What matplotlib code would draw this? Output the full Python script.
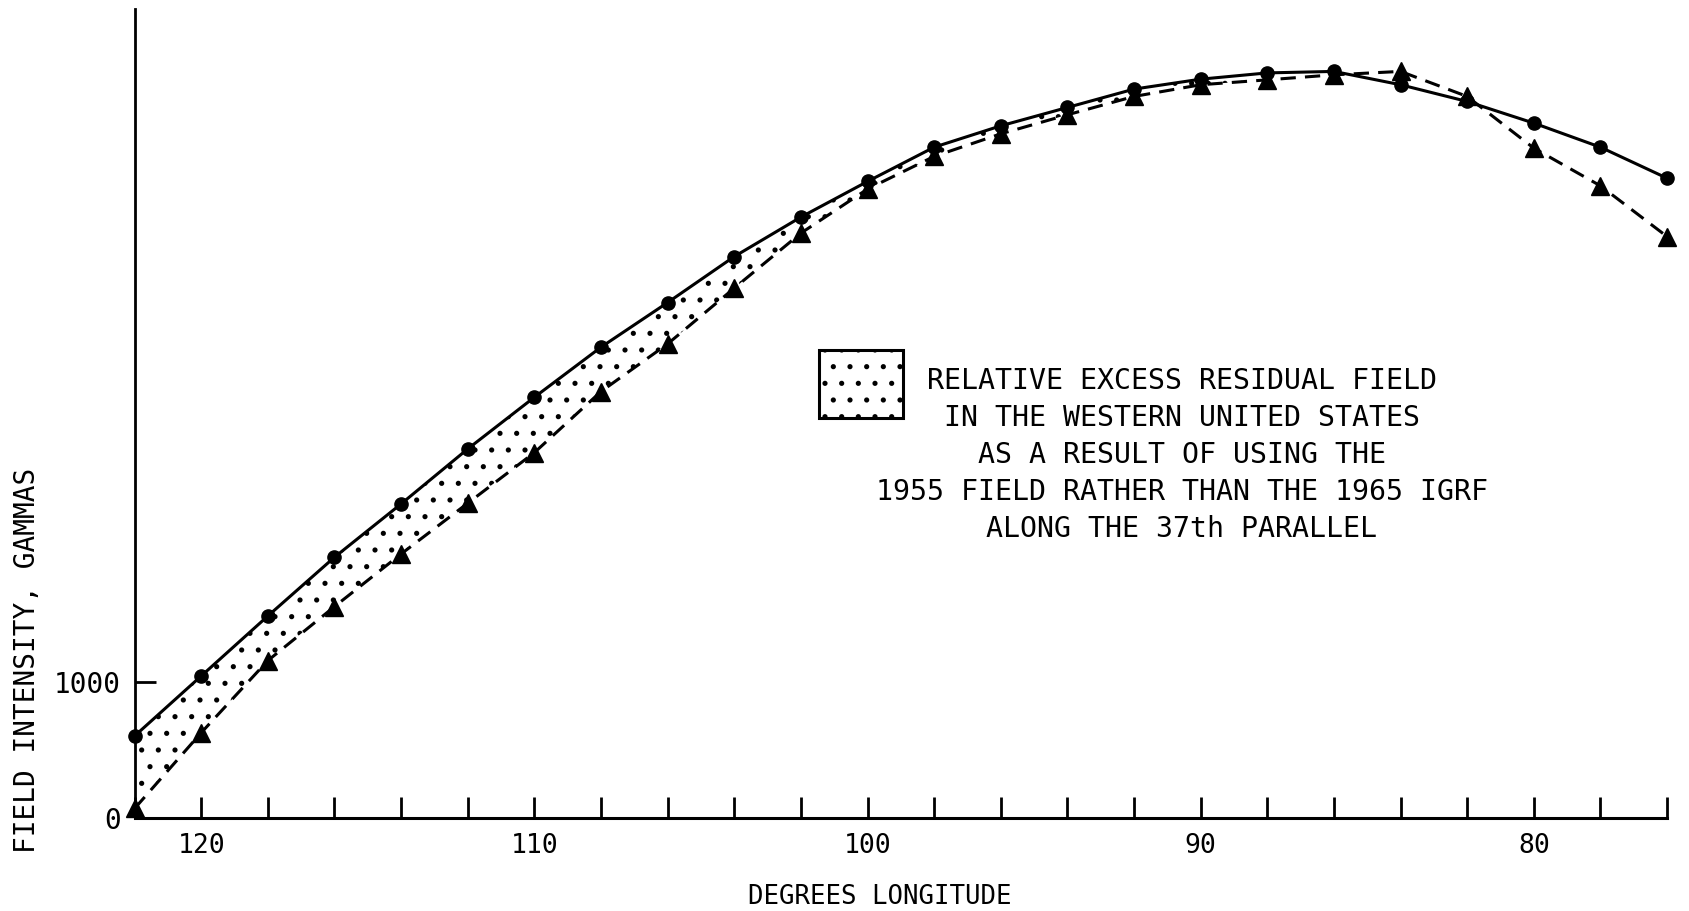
import matplotlib.pyplot as plt
from matplotlib.patches import Rectangle
import numpy as np

# longitude (degrees west), read every 2 degrees
longitude = [122, 120, 118, 116, 114, 112, 110, 108, 106, 104, 102, 100,
             98, 96, 94, 92, 90, 88, 86, 84, 82, 80, 78, 76]
# solid curve with dots (gammas)
solid_dots = [603, 1044, 1485, 1917, 2309, 2713, 3093, 3461, 3789, 4127, 4417, 4679,
              4931, 5088, 5223, 5358, 5431, 5477, 5488, 5390, 5267, 5108, 4931, 4703]
# dashed curve with triangles (gammas)
dashed_triangles = [70, 627, 1157, 1554, 1941, 2314, 2686, 3135, 3485, 3895, 4299, 4623,
                    4863, 5029, 5169, 5304, 5390, 5426, 5463, 5488, 5304, 4924, 4647, 4274]

major_ticks = [120, 110, 100, 90, 80]
minor_ticks = list(range(122, 75, -2))
y_ticks = [0, 1000]

legend_text = ("RELATIVE EXCESS RESIDUAL FIELD\n"
               "IN THE WESTERN UNITED STATES\n"
               "AS A RESULT OF USING THE\n"
               "1955 FIELD RATHER THAN THE 1965 IGRF\n"
               "ALONG THE 37th PARALLEL")

plt.rcParams["font.family"] = ["DejaVu Sans Mono"]
plt.rcParams["hatch.linewidth"] = 1.3

fig = plt.figure(figsize=(16.89, 9.11), dpi=100)
ax = fig.add_axes([0.0797, 0.1021, 0.9073, 0.8885])

lon = np.array(longitude)
top = np.array(solid_dots)
bot = np.array(dashed_triangles)
band = (top >= bot) & (lon >= 88)
ax.fill_between(lon, top, bot, where=band, interpolate=True,
                facecolor="none", edgecolor="black", linewidth=0, hatch=".")

ax.plot(lon, top, color="black", linewidth=2.2, marker="o", markersize=9.5,
        clip_on=False, zorder=3)
ax.plot(lon, bot, color="black", linewidth=2.2, linestyle=(0, (5, 3)),
        marker="^", markersize=12.5, clip_on=False, zorder=3)

ax.set_xlim(122, 76)
ax.set_ylim(0, 5950)
ax.spines["top"].set_visible(False)
ax.spines["right"].set_visible(False)
ax.spines["left"].set_linewidth(2)
ax.spines["bottom"].set_linewidth(2.2)

ax.set_xticks(major_ticks)
ax.set_xticks(minor_ticks, minor=True)
ax.set_yticks(y_ticks)
ax.tick_params(axis="x", which="both", direction="in", length=15, width=2,
               labelsize=19, pad=11)
ax.tick_params(axis="y", direction="in", length=15, width=2, labelsize=20, pad=10)

fig.text(27 / 1689, 0.2755, "FIELD INTENSITY, GAMMAS", rotation=90,
         ha="center", va="center", fontsize=20)
fig.text(880 / 1689, 0.0154, "DEGREES LONGITUDE", ha="center", va="center",
         fontsize=18.5)

box = Rectangle((0.4849, 0.5412), 0.0497, 0.0746, transform=fig.transFigure,
                facecolor="none", edgecolor="black", linewidth=2.2, hatch=".")
fig.patches.append(box)
fig.text(1182 / 1689, (911 - 455) / 911, legend_text, ha="center", va="center",
         multialignment="center", fontsize=20.3, linespacing=1.42)

fig.savefig("out.png", dpi=100)
